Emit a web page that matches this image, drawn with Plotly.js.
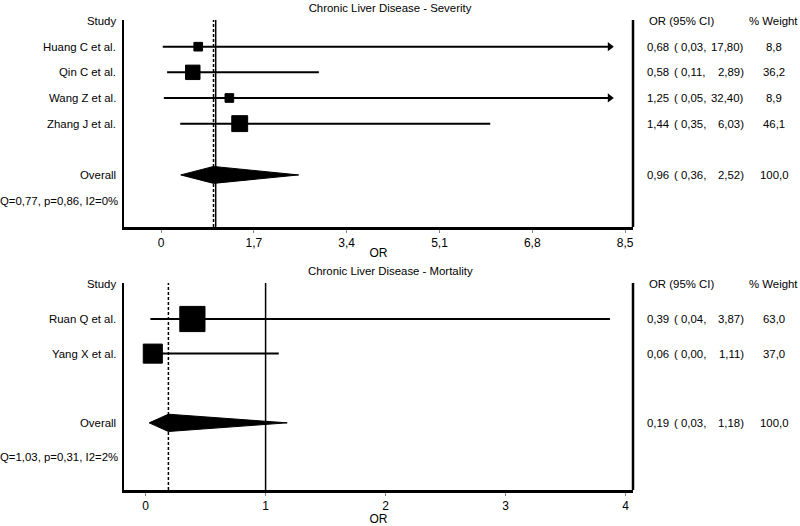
<!DOCTYPE html>
<html>
<head>
<meta charset="utf-8">
<script src="https://cdn.plot.ly/plotly-3.0.1.min.js"></script>
<style>
  html, body { margin: 0; padding: 0; background: #fff; }
  #chart { width: 800px; height: 526px; }
</style>
</head>
<body>
<div id="chart"></div>
<script>
// ---------- DATA: Severity panel ----------
const sevTitle = 'Chronic Liver Disease - Severity';
const sevStudies = ['Huang C et al.', 'Qin C et al.', 'Wang Z et al.', 'Zhang J et al.'];
const sevOR = [0.68, 0.58, 1.25, 1.44];
const sevLo = [0.03, 0.11, 0.05, 0.35];
const sevHi = [17.80, 2.89, 32.40, 6.03];
const sevWeight = [8.8, 36.2, 8.9, 46.1];
const sevOverall = [0.96, 0.36, 2.52];   // OR, lower, upper
const sevOverallWeight = 100.0;
const sevHet = 'Q=0,77, p=0,86, I2=0%';
const sevTicks = [0, 1.7, 3.4, 5.1, 6.8, 8.5];

// ---------- DATA: Mortality panel ----------
const morTitle = 'Chronic Liver Disease - Mortality';
const morStudies = ['Ruan Q et al.', 'Yang X et al.'];
const morOR = [0.39, 0.06];
const morLo = [0.04, 0.00];
const morHi = [3.87, 1.11];
const morWeight = [63.0, 37.0];
const morOverall = [0.19, 0.03, 1.18];
const morOverallWeight = 100.0;
const morHet = 'Q=1,03, p=0,31, I2=2%';
const morTicks = [0, 1, 2, 3, 4];

// ---------- helpers ----------
const fmt2 = v => v.toFixed(2).replace('.', ',');
const fmt1 = v => v.toFixed(1).replace('.', ',');
const fmtTick = v => String(v).replace('.', ',');
const W = 800, H = 526;
const FAM = 'Liberation Sans, Arial, sans-serif';
const FONT = {family: FAM, size: 12, color: '#000'};
const LFONT = {family: FAM, size: 11.4, color: '#000'};

const traces = [];
const shapes = [];
const annotations = [];

function buildPanel(p) {
  const n = p.studies.length;
  const rows = p.studies.map((s, i) => i + 1);
  const overallRow = n + 2;
  const hetRow = n + 3;

  // CI lines (clipped with arrow when beyond the axis)
  const cx = [], cy = [], ax = [], ay = [];
  p.lo.forEach((lo, i) => {
    const clipped = p.hi[i] > p.clip;
    cx.push(lo, clipped ? p.clip : p.hi[i], null);
    cy.push(rows[i], rows[i], null);
    if (clipped) { ax.push(p.clip); ay.push(rows[i]); }
  });
  traces.push({type: 'scatter', mode: 'lines', x: cx, y: cy, xaxis: p.xa, yaxis: p.ya,
    line: {color: '#000', width: 2}, hoverinfo: 'skip', showlegend: false});
  if (ax.length) {
    traces.push({type: 'scatter', mode: 'markers', x: ax, y: ay, xaxis: p.xa, yaxis: p.ya, opacity: 1,
      marker: {symbol: 'triangle-right', size: 8, color: '#000', opacity: 1}, hoverinfo: 'skip', showlegend: false});
  }
  // squares
  traces.push({type: 'scatter', mode: 'markers', x: p.or, y: rows, xaxis: p.xa, yaxis: p.ya, opacity: 1,
    marker: {symbol: 'square', color: '#000', opacity: 1, size: p.weight.map(p.sizeFn),
      line: {width: 1, color: '#000'}},
    hoverinfo: 'skip', showlegend: false});
  // overall diamond
  const [o, ol, oh] = p.overall;
  traces.push({type: 'scatter', mode: 'lines', fill: 'toself', fillcolor: '#000',
    x: [ol, o, oh, o, ol], y: [overallRow, overallRow - p.dh, overallRow, overallRow + p.dh, overallRow],
    xaxis: p.xa, yaxis: p.ya, line: {color: '#000', width: 1}, hoverinfo: 'skip', showlegend: false});

  // reference lines
  shapes.push({type: 'line', xref: p.xa, yref: p.ya + ' domain', x0: o, x1: o, y0: 0, y1: 1,
    line: {color: '#000', width: 1.5, dash: '3px,2px'}});
  shapes.push({type: 'line', xref: p.xa, yref: p.ya + ' domain', x0: 1, x1: 1, y0: 0, y1: 1,
    line: {color: '#000', width: 1.5}});
  // right border line
  shapes.push({type: 'line', xref: p.xa + ' domain', yref: p.ya + ' domain', x0: 1, x1: 1, y0: 0, y1: 1,
    line: {color: '#000', width: 2.5}});

  const yref = p.ya;
  const lab = (text, x, y, anchor) => annotations.push({text, x: x / W, xref: 'paper', y, yref,
    xanchor: anchor, yanchor: 'middle', showarrow: false, font: LFONT});
  // left column
  lab('Study', 118, 0, 'right');
  p.studies.forEach((s, i) => lab(s, 118, rows[i], 'right'));
  lab('Overall', 118, overallRow, 'right');
  lab(p.het, 120, hetRow, 'right');
  // right columns
  lab('OR (95% CI)', 647, 0, 'left');
  lab('% Weight', 747, 0, 'left');
  const addRow = (or, lo, hi, w, y) => {
    lab(fmt2(or), 645, y, 'left');
    lab('( ' + fmt2(lo) + ',', 672, y, 'left');
    lab(fmt2(hi) + ')', 746, y, 'right');
    lab(fmt1(w), 774, y, 'center');
  };
  p.studies.forEach((s, i) => addRow(p.or[i], p.lo[i], p.hi[i], p.weight[i], rows[i]));
  addRow(o, ol, oh, p.overallWeight, overallRow);
}

buildPanel({xa: 'x', ya: 'y', studies: sevStudies, or: sevOR, lo: sevLo, hi: sevHi, weight: sevWeight,
  overall: sevOverall, overallWeight: sevOverallWeight, het: sevHet, clip: 8.22, dh: 0.33,
  sizeFn: w => 3 + 1.9 * Math.sqrt(w)});
buildPanel({xa: 'x2', ya: 'y2', studies: morStudies, or: morOR, lo: morLo, hi: morHi, weight: morWeight,
  overall: morOverall, overallWeight: morOverallWeight, het: morHet, clip: 99, dh: 0.25,
  sizeFn: w => 3.3 * Math.sqrt(w) - 1}) ;

// bottom title as annotation
annotations.push({text: morTitle, xref: 'paper', yref: 'paper', x: 390 / W, y: 1 - 271 / H,
  xanchor: 'center', yanchor: 'middle', showarrow: false, font: LFONT});

const xdom = [124 / W, 633 / W];
const xaxisBase = {
  showgrid: false, zeroline: false, showline: true, linecolor: '#000', linewidth: 2.5,
  ticks: 'outside', ticklen: 3, tickwidth: 1, tickcolor: '#888',
  tickfont: FONT, title: {text: 'OR', font: FONT, standoff: 0}, fixedrange: true
};
const yaxisBase = {
  showgrid: false, zeroline: false, showline: true, linecolor: '#000', linewidth: 2.5,
  showticklabels: false, ticks: '', fixedrange: true
};

const layout = {
  width: W, height: H,
  margin: {l: 0, r: 0, t: 0, b: 0},
  paper_bgcolor: '#fff', plot_bgcolor: '#fff',
  font: FONT,
  showlegend: false,
  title: {text: sevTitle, font: LFONT, x: 390 / W, xanchor: 'center', y: 1 - 8 / H, yanchor: 'middle'},
  xaxis: Object.assign({}, xaxisBase, {domain: xdom, anchor: 'y', range: [-0.68, 8.645],
    tickvals: sevTicks, ticktext: sevTicks.map(fmtTick)}),
  yaxis: Object.assign({}, yaxisBase, {domain: [1 - 227 / H, 1 - 20 / H], anchor: 'x', range: [8.03, -0.04]}),
  xaxis2: Object.assign({}, xaxisBase, {domain: xdom, anchor: 'y2', range: [-0.18, 4.062],
    tickvals: morTicks, ticktext: morTicks.map(fmtTick)}),
  yaxis2: Object.assign({}, yaxisBase, {domain: [1 - 490 / H, 1 - 283 / H], anchor: 'x2', range: [5.94, -0.04]}),
  shapes, annotations
};

Plotly.newPlot('chart', traces, layout, {displayModeBar: false, staticPlot: true});
</script>
</body>
</html>
